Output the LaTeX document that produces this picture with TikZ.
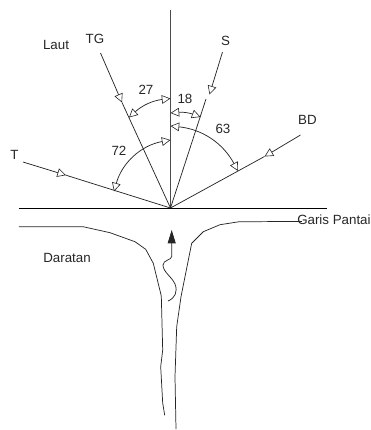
\documentclass[tikz,border=0pt]{standalone}
\usepackage{fontspec}
\setmainfont{Liberation Sans}
\usetikzlibrary{arrows.meta}
\tikzset{
  x=0.75pt,y=-0.75pt,
  ln/.style={line width=0.55pt,black!85},
  ray/.style={ln,-{Triangle[open,length=6.5pt,width=6.5pt,line width=0.45pt]}},
  ang/.style={ln,{Triangle[open,length=6.5pt,width=6.5pt,line width=0.45pt]}-{Triangle[open,length=6.5pt,width=6.5pt,line width=0.45pt]}},
  lbl/.style={inner sep=0pt,font=\fontsize{10pt}{12pt}\selectfont,text=black!85}
}
\begin{document}
\begin{tikzpicture}
\useasboundingbox (0,0) rectangle (371,430);
% reference points
\coordinate (O) at (170.5,208);
\coordinate (top) at (170.5,10);
\coordinate (shoreL) at (19,208);
\coordinate (shoreR) at (327,208);
\coordinate (Ta) at (23,162);   \coordinate (Tb) at (66,175.2);
\coordinate (TGa) at (100.5,53);\coordinate (TGb) at (122,102.5);
\coordinate (Sa) at (222.5,52); \coordinate (Sb) at (209.5,94.5); \coordinate (Sc) at (206,99);
\coordinate (BDa) at (300.5,135);\coordinate (BDb) at (264.5,156.5);
% labels
\node[lbl] (laut) at (56,45) {Laut};
\node[lbl] (tg) at (95,39) {TG};
\node[lbl] (s) at (225.5,41) {S};
\node[lbl] (t) at (14.5,155) {T};
\node[lbl] (bd) at (307.5,120) {BD};
\node[lbl] (n27) at (146,90) {27};
\node[lbl] (n18) at (185,99) {18};
\node[lbl] (n63) at (223,129) {63};
\node[lbl] (n72) at (119,150.5) {72};
\node[lbl] (dar) at (67,258) {Daratan};
\node[lbl,anchor=west] (gp) at (297,219.5) {Garis Pantai};
% axes
\draw[ln,line width=0.8pt,black!70] (top) -- (O);
\draw[ln,black] (shoreL) -- (shoreR);
% rays
\draw[ray] (Ta) -- (Tb);   \draw[ln] (Tb) -- (O);
\draw[ray] (TGa) -- (TGb); \draw[ln] (TGb) -- (O);
\draw[ray] (Sa) -- (Sb);   \draw[ln] (Sc) -- (O);
\draw[ray] (BDa) -- (BDb); \draw[ln] (BDb) -- (O);
% angle arcs
\coordinate (a27a) at (129,117.5); \coordinate (a27b) at (170.5,98.5);
\coordinate (a18a) at (170.5,113); \coordinate (a18b) at (200.5,117);
\coordinate (a63a) at (170.5,126); \coordinate (a63b) at (238,171);
\coordinate (a72a) at (170.5,140); \coordinate (a72b) at (114,191.5);
\draw[ang] (a27a) to[bend left=18] (a27b);
\draw[ang] (a18a) to[bend left=13] (a18b);
\draw[ang] (a63a) to[bend left=28] (a63b);
\draw[ang] (a72a) to[bend right=32] (a72b);
% shore / river banks
\draw[ln] (19,226.7) -- (83,226.7) -- (110,232.7) -- (135,241.7) -- (145.7,249.3) -- (153.3,263.3) -- (161.3,296) -- (162.7,350) -- (160.7,366.7) -- (162.7,403) -- (164.7,415.3);
\draw[ln] (gp.west) ++(5,2) -- (239.3,221.7) -- (220,224.7) -- (203.3,231.7) -- (191.7,243.3) -- (181,296.7) -- (176.7,326.7) -- (175,376.7) -- (176,429);
% current arrow
\coordinate (w0) at (168,301);
\coordinate (w1) at (171.7,256.5);
\coordinate (w2) at (171.7,230);
\draw[ln,-{Triangle[length=10pt,width=6pt]}]
  (w0) .. controls (175,298) and (178,292) .. (175,284)
  .. controls (172,277) and (163,272) .. (163,265)
  .. controls (163,260) and (171.7,260) .. (w1) -- (w2);
\end{tikzpicture}
\end{document}
